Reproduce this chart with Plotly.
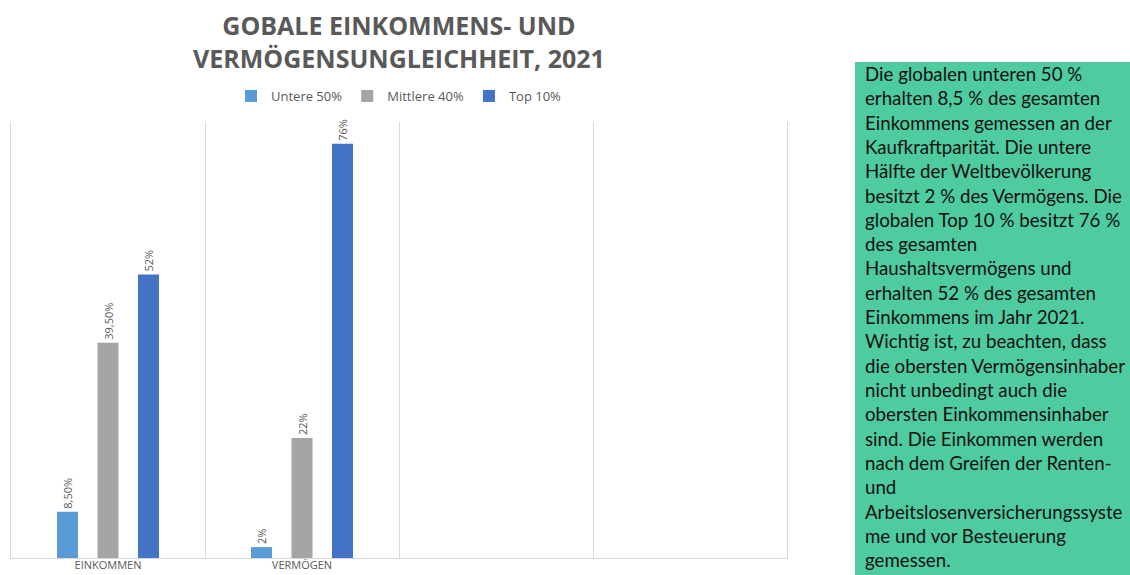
import plotly.graph_objects as go

# Categories on the x axis (the last two slots are intentionally empty)
categories = ["EINKOMMEN", "VERMÖGEN", " ", "  "]
data_categories = ["EINKOMMEN", "VERMÖGEN"]

# Shares in percent
untere_50 = [8.5, 2]
mittlere_40 = [39.5, 22]
top_10 = [52, 76]

# Data labels as printed on the bars
untere_labels = ["8,50%", "2%"]
mittlere_labels = ["39,50%", "22%"]
top_labels = ["52%", "76%"]

series_names = ["Untere 50%", "Mittlere 40%", "Top 10%"]
series_colors = ["#5B9BD5", "#A5A5A5", "#4472C4"]

note_lines = [
    "Die globalen unteren 50 %",
    "erhalten 8,5 % des gesamten",
    "Einkommens gemessen an der",
    "Kaufkraftparität. Die untere",
    "Hälfte der Weltbevölkerung",
    "besitzt 2 % des Vermögens. Die",
    "globalen Top 10 % besitzt 76 %",
    "des gesamten",
    "Haushaltsvermögens und",
    "erhalten 52 % des gesamten",
    "Einkommens im Jahr 2021.",
    "Wichtig ist, zu beachten, dass",
    "die obersten Vermögensinhaber",
    "nicht unbedingt auch die",
    "obersten Einkommensinhaber",
    "sind. Die Einkommen werden",
    "nach dem Greifen der Renten-",
    "und",
    "Arbeitslosenversicherungssyste",
    "me und vor Besteuerung",
    "gemessen.",
]

W, H = 1130, 575
ML, MR, MT, MB = 11, 343, 122, 17
plot_w = W - ML - MR
plot_h = H - MT - MB


def px_x(px):
    return (px - ML) / plot_w


def px_y(py):
    return (H - MB - py) / plot_h


fig = go.Figure()
for name, vals, labels, color in zip(
    series_names,
    [untere_50, mittlere_40, top_10],
    [untere_labels, mittlere_labels, top_labels],
    series_colors,
):
    fig.add_trace(
        go.Bar(
            name=name,
            x=data_categories,
            y=vals,
            text=labels,
            texttemplate="%{text}",
            textposition="outside",
            textangle=-90,
            constraintext="none",
            textfont=dict(family="Open Sans", size=11, color="#595959"),
            marker=dict(color=color, line=dict(width=0)),
            cliponaxis=False,
        )
    )

fig.update_layout(
    width=W,
    height=H,
    margin=dict(l=ML, r=MR, t=MT, b=MB, autoexpand=False),
    paper_bgcolor="white",
    plot_bgcolor="white",
    barmode="group",
    bargap=0.374,
    bargroupgap=0.48,
    showlegend=True,
    legend=dict(
        orientation="h",
        x=0.5,
        xanchor="center",
        y=px_y(96),
        yanchor="middle",
        font=dict(family="Open Sans", size=13, color="#595959"),
        itemwidth=30,
        tracegroupgap=0,
    ),
    font=dict(family="Open Sans", color="#595959"),
    xaxis=dict(
        type="category",
        categoryorder="array",
        categoryarray=categories,
        tickson="boundaries",
        showgrid=True,
        gridcolor="#D9D9D9",
        gridwidth=1,
        showline=True,
        linecolor="#D9D9D9",
        ticks="",
        automargin=False,
        ticklabelstandoff=-3,
        tickfont=dict(family="Open Sans", size=11, color="#595959"),
        range=[-0.5, 3.5],
    ),
    yaxis=dict(
        range=[0, 80],
        showgrid=False,
        showticklabels=False,
        zeroline=False,
        showline=True,
        mirror=True,
        linecolor="#D9D9D9",
        ticks="",
        automargin=False,
    ),
)

# Title
fig.add_annotation(
    text="<b>GOBALE EINKOMMENS- UND<br>VERMÖGENSUNGLEICHHEIT, 2021</b>",
    xref="paper",
    yref="paper",
    x=px_x(399),
    y=px_y(41.5),
    xanchor="center",
    yanchor="middle",
    showarrow=False,
    font=dict(family="Open Sans", size=25, color="#595959"),
    align="center",
)

# Green note panel on the right
fig.add_shape(
    type="rect",
    xref="paper",
    yref="paper",
    x0=px_x(855),
    x1=px_x(1135),
    y0=px_y(580),
    y1=px_y(62),
    fillcolor="#4FCBA0",
    line=dict(width=0),
    layer="below",
)
fig.add_annotation(
    text="<br>".join(note_lines),
    xref="paper",
    yref="paper",
    x=px_x(863),
    y=px_y(61),
    xanchor="left",
    yanchor="top",
    showarrow=False,
    align="left",
    font=dict(family="Lato", size=18.7, color="#111111"),
)

fig.write_html("out.html")
